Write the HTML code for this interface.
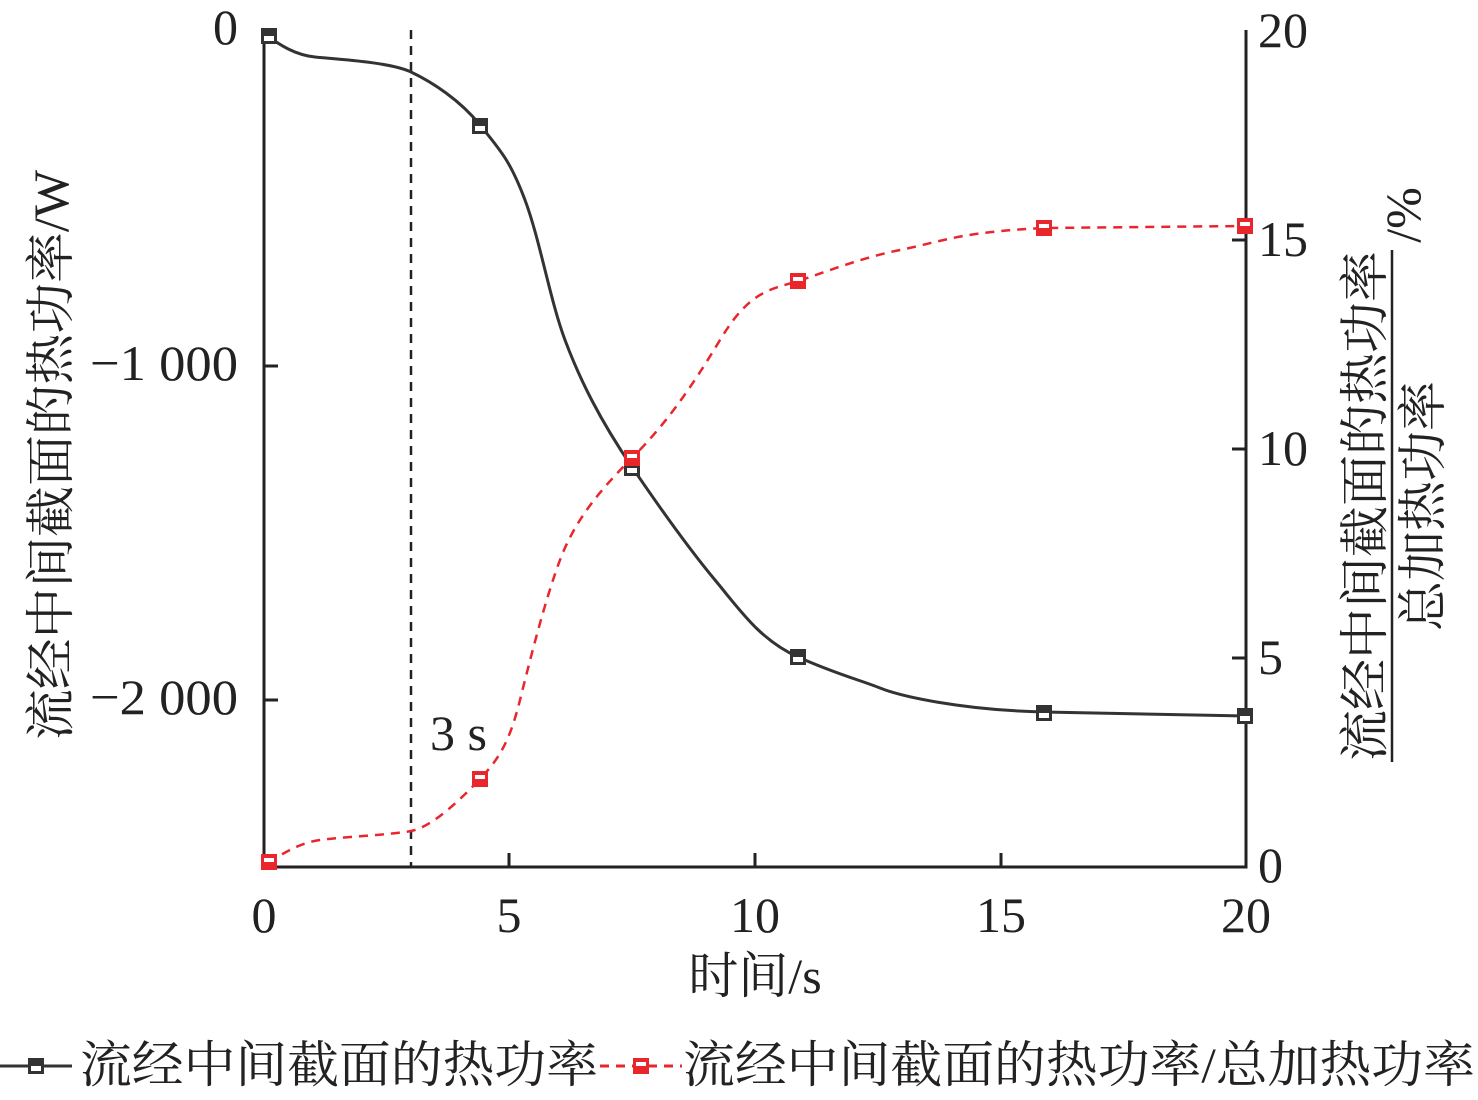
<!DOCTYPE html>
<html><head><meta charset="utf-8"><style>
body{margin:0;background:#fff;}
svg text{font-family:"Liberation Serif","Noto Serif CJK SC",serif;fill:#222;}
</style></head><body>
<svg width="1478" height="1095" viewBox="0 0 1478 1095" xmlns="http://www.w3.org/2000/svg">
<g stroke="#222" stroke-width="3" fill="none">
<path d="M264,30 V867 H1246 V30"/>
<path d="M264,366 h14 M264,700 h14 M509,867 v-14 M755,867 v-14 M1001,867 v-14 M1246,658 h-14 M1246,449 h-14 M1246,240 h-14"/>
</g>
<path d="M411,30 V867" stroke="#222" stroke-width="2.5" stroke-dasharray="9,7" fill="none"/>
<path d="M266,35 C280,45 295,55 315,57 S390,62 411,72 S460,100 480,125 S510,160 525,200 S550,300 565,340 S600,420 632,467 S690,550 715,580 S760,640 798,657 S860,680 880,688 S960,710 1044,712 L1246,716" stroke="#333" stroke-width="3" fill="none"/>
<path d="M268,862 C290,850 300,843 320,840 S390,835 411,831 S460,800 480,779 S510,740 520,700 S545,600 560,560 S600,490 632,458 S690,390 720,340 S770,290 798,281 S860,258 900,250 S960,232 1044,228 L1246,226" stroke="#e8262c" stroke-width="2.5" stroke-dasharray="9,7" fill="none"/>
<g>
<g transform="translate(269,36)"><rect x="-8" y="-8" width="16" height="16" fill="#333"/><rect x="-5" y="0" width="10" height="5" fill="#fff"/></g>
<g transform="translate(480,126)"><rect x="-8" y="-8" width="16" height="16" fill="#333"/><rect x="-5" y="0" width="10" height="5" fill="#fff"/></g>
<g transform="translate(632,468)"><rect x="-8" y="-8" width="16" height="16" fill="#333"/><rect x="-5" y="0" width="10" height="5" fill="#fff"/></g>
<g transform="translate(798,657)"><rect x="-8" y="-8" width="16" height="16" fill="#333"/><rect x="-5" y="0" width="10" height="5" fill="#fff"/></g>
<g transform="translate(1044,713)"><rect x="-8" y="-8" width="16" height="16" fill="#333"/><rect x="-5" y="0" width="10" height="5" fill="#fff"/></g>
<g transform="translate(1245,716)"><rect x="-8" y="-8" width="16" height="16" fill="#333"/><rect x="-5" y="0" width="10" height="5" fill="#fff"/></g>
</g>
<g>
<g transform="translate(269,862)"><rect x="-8" y="-8" width="16" height="16" fill="#e8262c"/><rect x="-5" y="-4" width="10" height="4" fill="#fff"/></g>
<g transform="translate(480,779)"><rect x="-8" y="-8" width="16" height="16" fill="#e8262c"/><rect x="-5" y="-4" width="10" height="4" fill="#fff"/></g>
<g transform="translate(632,458)"><rect x="-8" y="-8" width="16" height="16" fill="#e8262c"/><rect x="-5" y="-4" width="10" height="4" fill="#fff"/></g>
<g transform="translate(798,281)"><rect x="-8" y="-8" width="16" height="16" fill="#e8262c"/><rect x="-5" y="-4" width="10" height="4" fill="#fff"/></g>
<g transform="translate(1044,228)"><rect x="-8" y="-8" width="16" height="16" fill="#e8262c"/><rect x="-5" y="-4" width="10" height="4" fill="#fff"/></g>
<g transform="translate(1245,226)"><rect x="-8" y="-8" width="16" height="16" fill="#e8262c"/><rect x="-5" y="-4" width="10" height="4" fill="#fff"/></g>
</g>
<g font-size="50">
<text x="238" y="44" text-anchor="end">0</text>
<text x="238" y="380" text-anchor="end" textLength="148" lengthAdjust="spacingAndGlyphs">−1 000</text>
<text x="238" y="714" text-anchor="end" textLength="148" lengthAdjust="spacingAndGlyphs">−2 000</text>
<text x="264" y="932" text-anchor="middle">0</text>
<text x="509" y="932" text-anchor="middle">5</text>
<text x="755" y="932" text-anchor="middle">10</text>
<text x="1001" y="932" text-anchor="middle">15</text>
<text x="1246" y="932" text-anchor="middle">20</text>
<text x="1258" y="47">20</text>
<text x="1258" y="256">15</text>
<text x="1258" y="465">10</text>
<text x="1258" y="674">5</text>
<text x="1258" y="882">0</text>
<text x="430" y="750">3 s</text>
<text x="755" y="993" text-anchor="middle">时间/s</text>
<text transform="translate(68,455) rotate(-90)" text-anchor="middle" textLength="570" lengthAdjust="spacingAndGlyphs">流经中间截面的热功率/W</text>
<text transform="translate(1382,506) rotate(-90)" text-anchor="middle" textLength="510" lengthAdjust="spacingAndGlyphs">流经中间截面的热功率</text>
<text transform="translate(1440,506) rotate(-90)" text-anchor="middle" textLength="250" lengthAdjust="spacingAndGlyphs">总加热功率</text>
<text transform="translate(1420,215) rotate(-90)" text-anchor="middle">/%</text>
<text x="80" y="1082" textLength="518" lengthAdjust="spacingAndGlyphs">流经中间截面的热功率</text>
<text x="683" y="1082" textLength="792" lengthAdjust="spacingAndGlyphs">流经中间截面的热功率/总加热功率</text>
</g>
<path d="M1392,250 V762" stroke="#222" stroke-width="2.5"/>
<path d="M0,1066 H72" stroke="#333" stroke-width="3"/>
<g transform="translate(36,1066)"><rect x="-8" y="-8" width="16" height="16" fill="#333"/><rect x="-5" y="0" width="10" height="5" fill="#fff"/></g>
<path d="M600,1066 H682" stroke="#e8262c" stroke-width="3" stroke-dasharray="9,7"/>
<g transform="translate(641,1066)"><rect x="-8" y="-8" width="16" height="16" fill="#e8262c"/><rect x="-5" y="-4" width="10" height="4" fill="#fff"/></g>
</svg>
</body></html>
